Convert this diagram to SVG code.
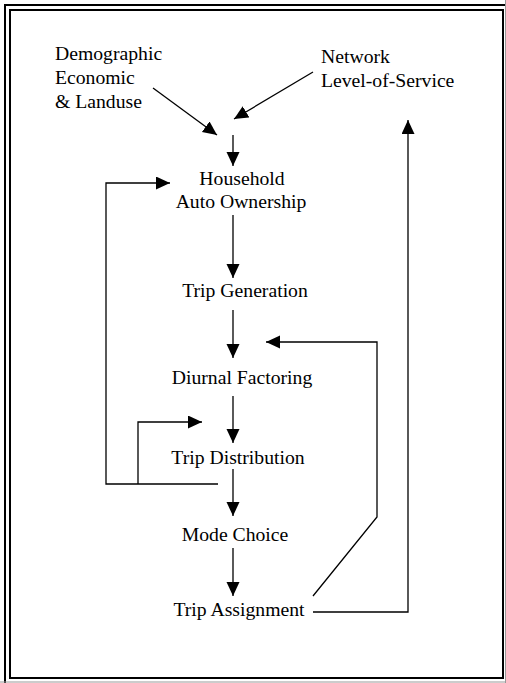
<svg xmlns="http://www.w3.org/2000/svg" width="506" height="683" viewBox="0 0 506 683">
<style>
text{font-family:"Liberation Serif","Times New Roman","DejaVu Serif",serif;font-size:19.7px;fill:#000}
.c{text-anchor:middle}
.ln{fill:none;stroke:#000;stroke-width:1.3}
.fr{fill:none;stroke:#000;stroke-width:2}
</style>
<defs>
<marker id="ah" markerUnits="userSpaceOnUse" markerWidth="15" markerHeight="14" refX="14" refY="6.5" orient="auto">
<path d="M0,0 L14,6.5 L0,13 z" fill="#000"/>
</marker>
</defs>
<rect width="506" height="683" fill="#fff"/>
<g id="frame">
<path class="fr" d="M5,683 V5 H506"/>
<rect class="fr" x="10" y="10" width="493" height="668"/>
<line x1="0" y1="682" x2="506" y2="682" stroke="#999" stroke-width="1"/>
<line x1="505.5" y1="0" x2="505.5" y2="683" stroke="#999" stroke-width="1"/>
</g>
<g id="connectors">
<line class="ln" x1="153" y1="88" x2="217" y2="135" marker-end="url(#ah)"/>
<line class="ln" x1="313" y1="72" x2="234" y2="119" marker-end="url(#ah)"/>
<line class="ln" x1="233" y1="135" x2="233" y2="166" marker-end="url(#ah)"/>
<line class="ln" x1="233" y1="215" x2="233" y2="278" marker-end="url(#ah)"/>
<line class="ln" x1="233" y1="310" x2="233" y2="358" marker-end="url(#ah)"/>
<line class="ln" x1="233" y1="396" x2="233" y2="443" marker-end="url(#ah)"/>
<line class="ln" x1="233" y1="469" x2="233" y2="516" marker-end="url(#ah)"/>
<line class="ln" x1="233" y1="548" x2="233" y2="596" marker-end="url(#ah)"/>
<polyline class="ln" points="218,484 106,484 106,183 170,183" marker-end="url(#ah)"/>
<polyline class="ln" points="138,484 138,422 202,422" marker-end="url(#ah)"/>
<polyline class="ln" points="313,596 377,517 377,342 266,342" marker-end="url(#ah)"/>
<polyline class="ln" points="313,612 408,612 408,120" marker-end="url(#ah)"/>
</g>
<g id="inputs-demographic">
<text x="55" y="60">Demographic</text>
<text x="55" y="84">Economic</text>
<text x="55" y="108">&amp; Landuse</text>
</g>
<g id="inputs-network">
<text x="321" y="63">Network</text>
<text x="321" y="87">Level-of-Service</text>
</g>
<g id="household-auto-ownership">
<text class="c" x="242" y="185">Household</text>
<text class="c" x="241" y="208">Auto Ownership</text>
</g>
<g id="trip-generation"><text class="c" x="245" y="297">Trip Generation</text></g>
<g id="diurnal-factoring"><text class="c" x="242" y="384">Diurnal Factoring</text></g>
<g id="trip-distribution"><text class="c" x="238" y="464">Trip Distribution</text></g>
<g id="mode-choice"><text class="c" x="235" y="541">Mode Choice</text></g>
<g id="trip-assignment"><text class="c" x="239" y="616">Trip Assignment</text></g>
</svg>
